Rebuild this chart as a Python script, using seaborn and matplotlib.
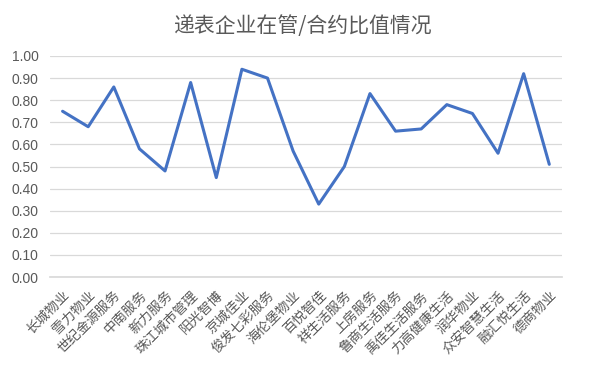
import matplotlib
matplotlib.use("Agg")
import matplotlib.pyplot as plt
import seaborn as sns
import pandas as pd
import numpy as np

categories = ["长城物业", "雪力物业", "世纪金源服务", "中南服务", "新力服务", "珠江城市管理",
              "阳光智博", "京城佳业", "俊发七彩服务", "海伦堡物业", "百悦智佳", "祥生活服务",
              "上房服务", "鲁商生活服务", "禹佳生活服务", "力高健康生活", "润华物业",
              "众安智慧生活", "融汇悦生活", "德商物业"]
values = [0.75, 0.68, 0.86, 0.58, 0.48, 0.88, 0.45, 0.94, 0.90, 0.57,
          0.33, 0.50, 0.83, 0.66, 0.67, 0.78, 0.74, 0.56, 0.92, 0.51]
yticks = [0.0, 0.1, 0.2, 0.3, 0.4, 0.5, 0.6, 0.7, 0.8, 0.9, 1.0]
title = "递表企业在管/合约比值情况"

sns.set_theme(style="white")
plt.rcParams['font.family'] = ['Noto Sans CJK SC', 'DejaVu Sans']

df = pd.DataFrame({"cat": categories, "val": values, "x": np.arange(len(categories))})

fig = plt.figure(figsize=(6.07, 3.66), dpi=100)
ax = fig.add_axes([0.082, 0.243, 0.844, 0.604])
sns.lineplot(data=df, x="x", y="val", ax=ax, color="#4472C4", linewidth=2.2, sort=False)

ax.set_xlim(-0.5, len(categories) - 0.5)
ax.set_ylim(0, 1.0)
ax.set_yticks(yticks)
ax.set_yticklabels([f"{v:.2f}" for v in yticks], color="#595959", fontsize=10,
                   family=['Liberation Sans', 'DejaVu Sans'])
ax.set_xticks(df["x"])
ax.set_xticklabels(categories, rotation=45, ha="right", va="top", rotation_mode="anchor",
                   color="#595959", fontsize=9.8)
ax.tick_params(axis="y", length=0, pad=8)
ax.tick_params(axis="x", length=0, pad=8)
ax.grid(axis="y", color="#D9D9D9", linewidth=0.9)
ax.set_axisbelow(True)
for s in ["top", "right", "left"]:
    ax.spines[s].set_visible(False)
ax.spines["bottom"].set_color("#D9D9D9")
ax.set_xlabel("")
ax.set_ylabel("")
fig.suptitle(title, x=0.5, y=0.96, fontsize=15, color="#595959")
fig.savefig("out.png", dpi=100, facecolor="white")
